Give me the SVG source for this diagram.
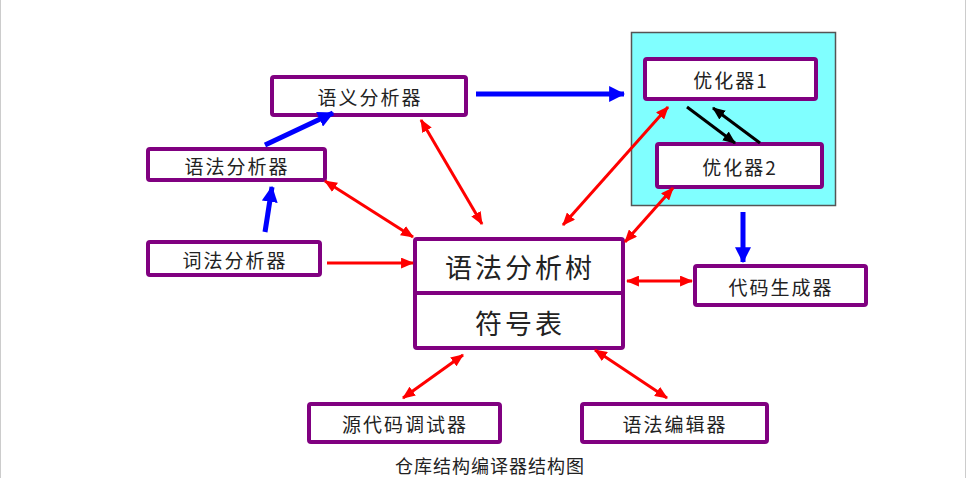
<svg xmlns="http://www.w3.org/2000/svg" width="966" height="478" viewBox="0 0 966 478">
<defs>
<style>
.box{fill:#fff;stroke:#800080;stroke-width:4;}
.t{font-family:"Noto Sans CJK SC","Liberation Sans",sans-serif;fill:#222;text-anchor:middle;dominant-baseline:central;}
.s{font-size:19px;letter-spacing:2px;}
.b{font-size:27px;letter-spacing:3px;}
.red{stroke:#ff0000;stroke-width:3;fill:none;}
.blue{stroke:#0000ff;stroke-width:5;fill:none;}
.blk{stroke:#000;stroke-width:3;fill:none;}
</style>
<marker id="ar" viewBox="0 0 12 10" refX="11" refY="5" markerWidth="13" markerHeight="11" markerUnits="userSpaceOnUse" orient="auto-start-reverse"><path d="M0,0 L12,5 L0,10 Z" fill="#ff0000"/></marker>
<marker id="ab" viewBox="0 0 14 14" refX="13" refY="7" markerWidth="16" markerHeight="16" markerUnits="userSpaceOnUse" orient="auto"><path d="M0,0 L14,7 L0,14 Z" fill="#0000ff"/></marker>
<marker id="ak" viewBox="0 0 12 10" refX="11" refY="5" markerWidth="13" markerHeight="11" markerUnits="userSpaceOnUse" orient="auto"><path d="M0,0 L12,5 L0,10 Z" fill="#000"/></marker>
</defs>
<rect x="0" y="0" width="966" height="478" fill="#fff"/>
<line x1="0.5" y1="0" x2="0.5" y2="478" stroke="#cccccc" stroke-width="1"/>
<line x1="965.5" y1="0" x2="965.5" y2="478" stroke="#cccccc" stroke-width="1"/>

<g id="optimizer-group">
<rect x="631.5" y="32.5" width="204" height="173" fill="#80ffff" stroke="#555" stroke-width="1.5"/>
</g>

<g id="n-yuyi"><rect class="box" x="272" y="77" width="194" height="38" rx="2"/><text class="t s" x="370" y="96">语义分析器</text></g>
<g id="n-yufa"><rect class="box" x="148" y="149" width="177" height="31" rx="2"/><text class="t s" x="237" y="165">语法分析器</text></g>
<g id="n-cifa"><rect class="box" x="148" y="242" width="172" height="33" rx="2"/><text class="t s" x="235" y="259">词法分析器</text></g>
<g id="n-opt1"><rect class="box" x="645" y="59" width="171" height="40" rx="2"/><text class="t s" x="731" y="79">优化器1</text></g>
<g id="n-opt2"><rect class="box" x="657" y="144" width="165" height="43" rx="2"/><text class="t s" x="740" y="166">优化器2</text></g>
<g id="n-main"><rect class="box" x="415" y="239" width="208" height="109" rx="2"/><line x1="415" y1="293" x2="623" y2="293" stroke="#800080" stroke-width="4"/><text class="t b" x="520" y="266">语法分析树</text><text class="t b" x="520" y="322">符号表</text></g>
<g id="n-code"><rect class="box" x="695" y="266" width="171" height="39" rx="2"/><text class="t s" x="781" y="286">代码生成器</text></g>
<g id="n-debug"><rect class="box" x="309" y="404" width="191" height="38" rx="2"/><text class="t s" x="405" y="423">源代码调试器</text></g>
<g id="n-edit"><rect class="box" x="582" y="404" width="185" height="38" rx="2"/><text class="t s" x="675" y="423">语法编辑器</text></g>

<g id="connectors">
<line class="blue" x1="476" y1="94" x2="624" y2="94" marker-end="url(#ab)"/>
<line class="blue" x1="265" y1="145" x2="333" y2="113" marker-end="url(#ab)"/>
<line class="blue" x1="265" y1="232" x2="272" y2="187" marker-end="url(#ab)"/>
<line class="blue" x1="743" y1="212" x2="743" y2="262" marker-end="url(#ab)"/>
<line class="blk" x1="687" y1="107" x2="735" y2="143" marker-end="url(#ak)"/>
<line class="blk" x1="760" y1="143" x2="713" y2="108" marker-end="url(#ak)"/>
<line class="red" x1="327" y1="263" x2="413" y2="263" marker-end="url(#ar)"/>
<line class="red" x1="325" y1="181" x2="413" y2="237" marker-start="url(#ar)" marker-end="url(#ar)"/>
<line class="red" x1="421" y1="120" x2="482" y2="224" marker-start="url(#ar)" marker-end="url(#ar)"/>
<line class="red" x1="668" y1="107" x2="563" y2="225" marker-start="url(#ar)" marker-end="url(#ar)"/>
<line class="red" x1="673" y1="188" x2="625" y2="242" marker-start="url(#ar)" marker-end="url(#ar)"/>
<line class="red" x1="627" y1="281" x2="692" y2="281" marker-start="url(#ar)" marker-end="url(#ar)"/>
<line class="red" x1="403" y1="398" x2="463" y2="355" marker-start="url(#ar)" marker-end="url(#ar)"/>
<line class="red" x1="595" y1="350" x2="667" y2="398" marker-start="url(#ar)" marker-end="url(#ar)"/>
</g>

<text class="t" x="490" y="465" font-size="18" letter-spacing="1">仓库结构编译器结构图</text>
</svg>
